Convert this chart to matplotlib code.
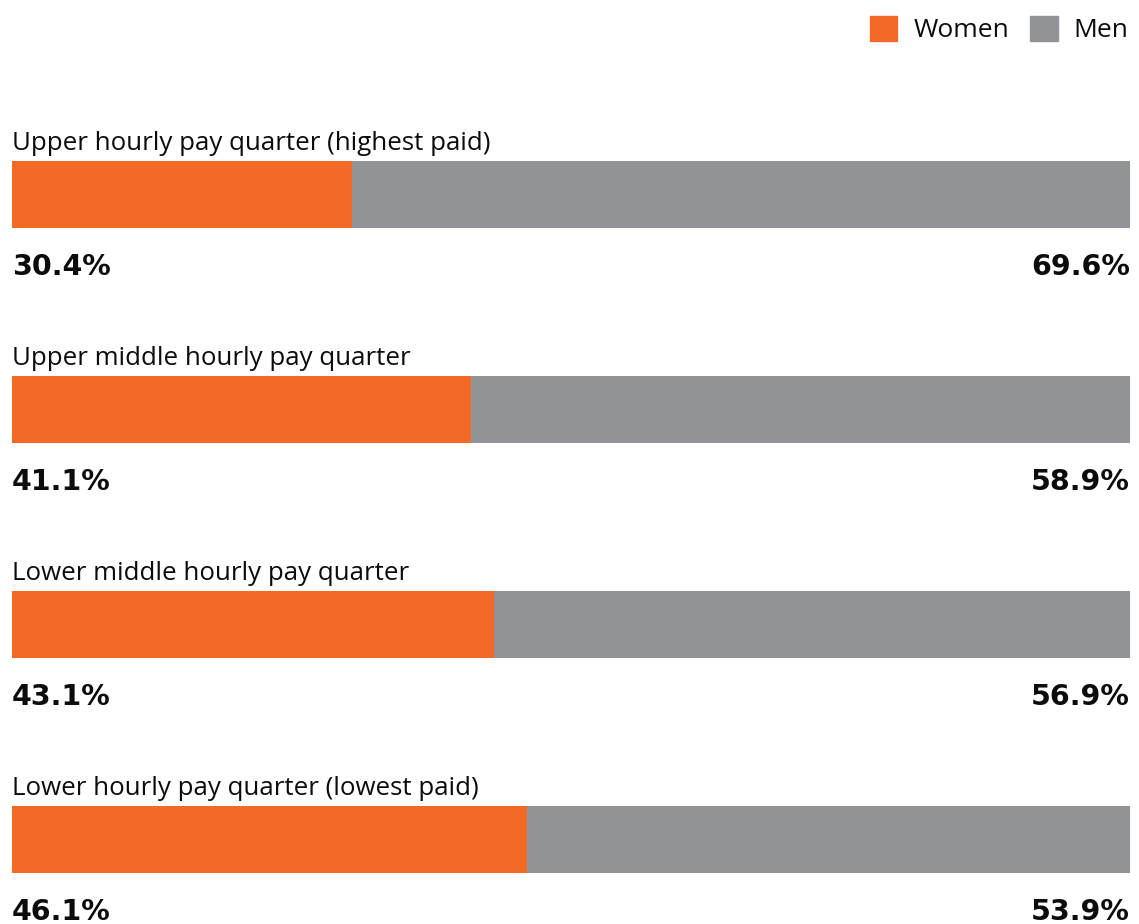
import matplotlib.pyplot as plt
from matplotlib.patches import Patch

# data
quarters = ['Upper hourly pay quarter (highest paid)',
            'Upper middle hourly pay quarter',
            'Lower middle hourly pay quarter',
            'Lower hourly pay quarter (lowest paid)']
women = [30.4, 41.1, 43.1, 46.1]
men = [69.6, 58.9, 56.9, 53.9]

orange = '#f36a26'
grey = '#929397'
ink = '#0b0c0c'

plt.rcParams['font.family'] = ['Open Sans', 'DejaVu Sans']

fig = plt.figure(figsize=(11.39, 9.24), dpi=100)
ax = fig.add_axes([12 / 1139, 0, 1118 / 1139, 1])

ypos = list(range(len(quarters)))
bar_h = 67 / 215
ax.barh(ypos, women, height=bar_h, color=orange, linewidth=0)
ax.barh(ypos, men, left=women, height=bar_h, color=grey, linewidth=0)

for y, name, w, m in zip(ypos, quarters, women, men):
    ax.text(0, y - 0.207, name, fontsize=18.6, color=ink, va='baseline', ha='left')
    ax.text(0, y + 0.374, f'{w:.1f}%', fontsize=20.5, fontweight='bold',
            family='DejaVu Sans', color=ink, va='baseline', ha='left')
    ax.text(100, y + 0.374, f'{m:.1f}%', fontsize=20.5, fontweight='bold',
            family='DejaVu Sans', color=ink, va='baseline', ha='right')

ax.set_xlim(0, 100)
ax.set_ylim(3.393, -0.905)
ax.axis('off')

handles = [Patch(color=orange, label='Women'), Patch(color=grey, label='Men')]
fig.legend(handles=handles, loc='upper right', bbox_to_anchor=(1.0, 0.994),
           ncol=2, frameon=False, fontsize=19, handlelength=1.05,
           handleheight=1.05, handletextpad=0.6, columnspacing=0.8,
           borderaxespad=0.0, labelcolor=ink)

fig.savefig('out.png', dpi=100, facecolor='white')
